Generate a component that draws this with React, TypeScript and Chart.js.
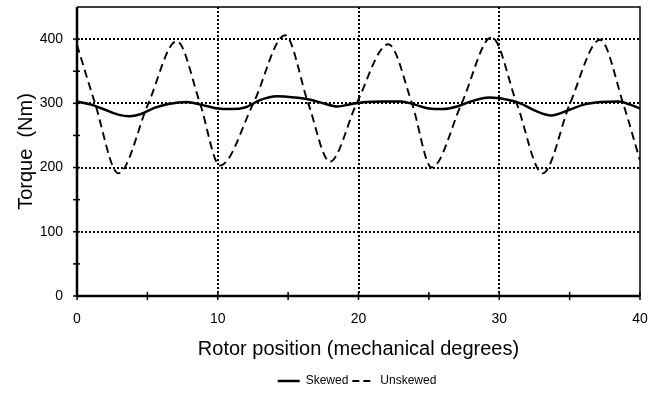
import React, { useEffect, useRef } from "react";
import { Chart, registerables } from "chart.js";

Chart.register(...registerables);

// ---- data ----
const seriesNames = ["Skewed", "Unskewed"];
const xTickValues = [0, 10, 20, 30, 40];
const yTickValues = [0, 100, 200, 300, 400];
const xAxisTitle = "Rotor position (mechanical degrees)";
const yAxisTitle = "Torque  (Nm)";

const skewedX = [0, 1, 2, 3, 3.7, 4.5, 5.5, 6.5, 7.8, 8.8, 10, 11, 12, 13, 14.2, 15.5, 16.5, 17.5, 18.5, 19.5, 20.5, 21.8, 23, 24, 25, 26, 27, 28, 29.3, 30.5, 31.5, 32.5, 33.7, 35, 36, 37.2, 38.5, 39.3, 40];
const skewedY = [303, 298, 290, 282, 280, 283, 293, 299, 302, 298, 292, 291, 294, 305, 311, 309, 306, 300, 295, 299, 302, 303, 303, 298, 292, 291, 295, 303, 309, 306, 300, 289, 281, 290, 298, 302, 303, 298, 292];

const unskewedX = [0, 1.28, 2.94, 5.07, 7.08, 8.74, 10.16, 12.53, 14.78, 16.43, 17.97, 19.87, 22.12, 23.8, 25.2, 27.33, 29.46, 31.24, 33.08, 35.03, 37.16, 38.8, 40];
const unskewedY = [391, 300, 191, 300, 397, 300, 203, 300, 406, 300, 209, 300, 392, 300, 200, 300, 403, 300, 191, 300, 399, 300, 211];

const gridXValues = [10, 20, 30];
const gridYValues = [100, 200, 300, 400];
const xMinorTicks = [0, 5, 10, 15, 20, 25, 30, 35, 40];
const yMinorTicks = [0, 50, 100, 150, 200, 250, 300, 350, 400];

const FONT = "'Liberation Sans', Arial, Helvetica, sans-serif";
const LEGEND_SHIFT = 37;

const framePlugin = {
  id: "frame",
  afterLayout(chart: any) {
    const lg = chart.legend;
    if (lg) {
      lg.left += LEGEND_SHIFT;
      lg.right += LEGEND_SHIFT;
    }
  },
  beforeDatasetsDraw(chart: any) {
    const { ctx, chartArea: a, scales } = chart;
    const x = scales.x;
    const y = scales.y;
    ctx.save();
    ctx.strokeStyle = "#000";
    ctx.lineWidth = 2;
    ctx.setLineDash([2, 2]);
    gridXValues.forEach((v) => {
      const px = Math.round(x.getPixelForValue(v));
      ctx.beginPath();
      ctx.moveTo(px, a.top);
      ctx.lineTo(px, a.bottom);
      ctx.stroke();
    });
    gridYValues.forEach((v) => {
      const py = Math.round(y.getPixelForValue(v));
      ctx.beginPath();
      ctx.moveTo(a.left, py);
      ctx.lineTo(a.right, py);
      ctx.stroke();
    });
    ctx.restore();
  },
  afterDatasetsDraw(chart: any) {
    const { ctx, chartArea: a, scales } = chart;
    const x = scales.x;
    const y = scales.y;
    ctx.save();
    ctx.setLineDash([]);
    ctx.strokeStyle = "#000";
    ctx.lineWidth = 1.5;
    ctx.beginPath();
    ctx.moveTo(a.left, a.top);
    ctx.lineTo(a.right, a.top);
    ctx.lineTo(a.right, a.bottom);
    ctx.stroke();
    ctx.lineWidth = 2.5;
    ctx.beginPath();
    ctx.moveTo(a.left, a.top);
    ctx.lineTo(a.left, a.bottom);
    ctx.lineTo(a.right, a.bottom);
    ctx.stroke();
    ctx.lineWidth = 1.5;
    yMinorTicks.forEach((v) => {
      const py = y.getPixelForValue(v);
      ctx.beginPath();
      ctx.moveTo(a.left - 4, py);
      ctx.lineTo(a.left + 3, py);
      ctx.stroke();
    });
    xMinorTicks.forEach((v) => {
      const px = x.getPixelForValue(v);
      ctx.beginPath();
      ctx.moveTo(px, a.bottom - 4);
      ctx.lineTo(px, a.bottom + 4);
      ctx.stroke();
    });
    ctx.restore();
  },
};

export default function App() {
  const canvasRef = useRef<HTMLCanvasElement | null>(null);

  useEffect(() => {
    const canvas = canvasRef.current;
    if (!canvas) return;
    Chart.defaults.font.family = FONT;
    Chart.defaults.color = "#000";

    const chart = new Chart(canvas, {
      type: "line",
      data: {
        datasets: [
          {
            label: seriesNames[0],
            data: skewedX.map((v, i) => ({ x: v, y: skewedY[i] })),
            borderColor: "#000",
            backgroundColor: "#000",
            borderWidth: 2.5,
            pointRadius: 0,
            cubicInterpolationMode: "monotone",
            fill: false,
          },
          {
            label: seriesNames[1],
            data: unskewedX.map((v, i) => ({ x: v, y: unskewedY[i] })),
            borderColor: "#000",
            backgroundColor: "#000",
            borderWidth: 1.9,
            borderDash: [8, 5],
            pointRadius: 0,
            cubicInterpolationMode: "monotone",
            fill: false,
          },
        ],
      },
      options: {
        responsive: false,
        animation: false,
        devicePixelRatio: 1,
        layout: { padding: { top: 7, right: 16, left: 0, bottom: 0 } },
        plugins: {
          tooltip: { enabled: false },
          legend: {
            position: "bottom",
            align: "center",
            labels: {
              usePointStyle: true,
              pointStyle: "line",
              pointStyleWidth: 22,
              padding: 4,
              color: "#000",
              font: { size: 12, family: FONT },
              generateLabels: (ch: any) => {
                const items = Chart.defaults.plugins.legend.labels.generateLabels(ch);
                return items.map((it: any) => {
                  const ds: any = ch.data.datasets[it.datasetIndex];
                  return {
                    ...it,
                    pointStyle: "line",
                    lineWidth: ds.borderWidth === 2.5 ? 2.5 : 1.9,
                    lineDash: ds.borderDash ? [7, 4] : [],
                    strokeStyle: "#000",
                    fontColor: "#000",
                  };
                });
              },
            },
          },
        },
        scales: {
          x: {
            type: "linear",
            min: 0,
            max: 40,
            grid: { display: false, drawTicks: false },
            border: { display: false },
            ticks: {
              stepSize: 5,
              autoSkip: false,
              maxRotation: 0,
              padding: 15,
              color: "#000",
              font: { size: 14, family: FONT },
              callback: (v: any) => (xTickValues.includes(Number(v)) ? String(v) : ""),
            },
            title: {
              display: true,
              text: xAxisTitle,
              color: "#000",
              font: { size: 20, family: FONT },
              padding: { top: 0, bottom: 10 },
            },
            afterFit: (scale: any) => {
              scale.height = 75;
              scale.paddingLeft = 0;
              scale.paddingRight = 0;
            },
          },
          y: {
            type: "linear",
            min: 0,
            max: 450,
            grid: { display: false, drawTicks: false },
            border: { display: false },
            ticks: {
              stepSize: 50,
              autoSkip: false,
              padding: 14,
              color: "#000",
              font: { size: 14, family: FONT },
              callback: (v: any) => (yTickValues.includes(Number(v)) ? String(v) : ""),
            },
            title: {
              display: true,
              text: yAxisTitle,
              color: "#000",
              font: { size: 20, family: FONT },
              padding: { top: 14, bottom: 0 },
            },
            afterFit: (scale: any) => {
              scale.width = 77;
              scale.paddingTop = 0;
              scale.paddingBottom = 0;
            },
          },
        },
      },
      plugins: [framePlugin],
    });
    return () => chart.destroy();
  }, []);

  return (
    <div style={{ position: "fixed", left: 0, top: 0, width: 656, height: 397, background: "#fff" }}>
      <canvas ref={canvasRef} width={656} height={397} style={{ display: "block" }} />
    </div>
  );
}
